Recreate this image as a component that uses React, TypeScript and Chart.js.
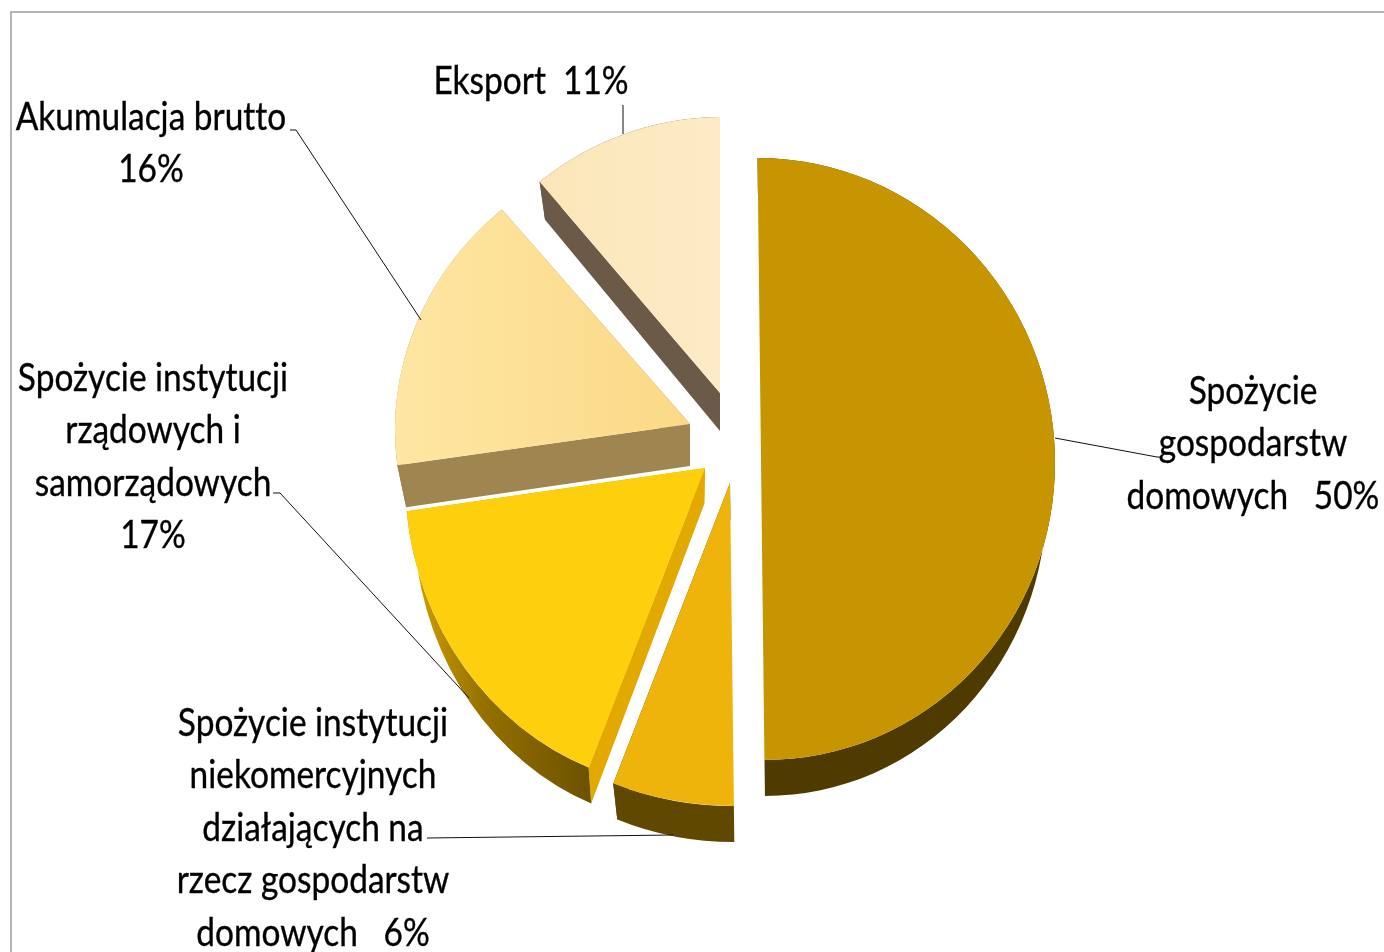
import React, { useEffect, useRef } from "react";
import { Chart, registerables } from "chart.js";

Chart.register(...registerables);

const categories = [
  "Spożycie gospodarstw domowych",
  "Spożycie instytucji niekomercyjnych działających na rzecz gospodarstw domowych",
  "Spożycie instytucji rządowych i samorządowych",
  "Akumulacja brutto",
  "Eksport",
];
const shares = [50, 6, 17, 16, 11];

const topColors = ["#C69500", "#EFB40B", "#FDCF0C", "#FDDF95", "#FBE8BE"];
const edgeColors = ["#4F3A00", "#5F4700", "#E2A900", "#9F8550", "#6B5A48"];
const rimColors = ["#4F3A00", "#604800", "#8F6C00", "#9F8550", "#6B5A48"];

// Exploded-slice look: shift from the pie centre, radius, vertical stretch, skew, tilt, extrusion depth.
const shiftX = [69, 38, 13, -2, 28];
const shiftY = [-17, 7, -8, -52, -83];
const radii = [294, 327, 300, 295, 283];
const stretch = [1.024, 0.988, 1.07, 0.96, 0.975];
const skews = [0.0117, 0.012, -0.02, 0, 0];
const tilts = [0, 0, -0.01, -0.02, -0.008];
const depths = [36, 36, 36, 42, 38];
const bottomFaceScale = 0.97;

const labelLines = [
  ["Spożycie", "gospodarstw", "domowych   50%"],
  ["Spożycie instytucji", "niekomercyjnych", "działających na", "rzecz gospodarstw", "domowych   6%"],
  ["Spożycie instytucji", "rządowych i", "samorządowych", "17%"],
  ["Akumulacja brutto", "16%"],
  ["Eksport  11%"],
];
const labelCenterX = [1253, 313, 153, 151, 531];
const labelFirstBaseline = [404, 736, 391, 130, 94];
const labelLeading = 52.4;
const labelFontPx = 38;
const labelScaleX = 0.88;

const leaders: number[][][] = [
  [[1055, 438], [1157, 457], [1161, 457]],
  [[427, 838], [673, 835]],
  [[273, 493], [280, 493], [469, 698]],
  [[290, 130], [296, 130], [421, 320]],
  [[623, 105], [623, 134]],
];

const piePlugin = {
  id: "pie3d",
  afterDatasetsUpdate(chart: any) {
    chart.getDatasetMeta(0).data.forEach((arc: any, i: number) => {
      arc.x += shiftX[i];
      arc.y += shiftY[i];
      arc.outerRadius = radii[i];
      const draw = arc.draw.bind(arc);
      arc.draw = (ctx: CanvasRenderingContext2D) => {
        ctx.save();
        ctx.translate(arc.x, arc.y);
        ctx.transform(1, tilts[i], skews[i], stretch[i], 0, 0);
        ctx.translate(-arc.x, -arc.y);
        draw(ctx);
        ctx.restore();
      };
    });
  },
  beforeDatasetsDraw(chart: any) {
    const ctx: CanvasRenderingContext2D = chart.ctx;
    chart.getDatasetMeta(0).data.forEach((arc: any, i: number) => {
      const { x, y, startAngle, endAngle } = arc;
      const r = radii[i];
      const rb = r * bottomFaceScale;
      const ry = r * stretch[i];
      const d = depths[i];
      ctx.save();
      ctx.translate(x, y);
      ctx.transform(1, tilts[i], skews[i], 1, 0, 0);
      ctx.fillStyle = edgeColors[i];
      [startAngle, endAngle].forEach((a: number) => {
        ctx.beginPath();
        ctx.moveTo(0, 0);
        ctx.lineTo(r * Math.cos(a), ry * Math.sin(a));
        ctx.lineTo(rb * Math.cos(a), ry * Math.sin(a) + d);
        ctx.lineTo(0, d);
        ctx.closePath();
        ctx.fill();
      });
      if (i === 2) {
        const g = ctx.createLinearGradient(-r, 0, -r * 0.38, 0);
        g.addColorStop(0, "#D9A800");
        g.addColorStop(0.45, "#957000");
        g.addColorStop(1, "#6E5300");
        ctx.fillStyle = g;
      } else {
        ctx.fillStyle = rimColors[i];
      }
      ctx.beginPath();
      ctx.ellipse(0, 0, r, ry, 0, startAngle, endAngle, false);
      ctx.ellipse(0, d, rb, ry, 0, endAngle, startAngle, true);
      ctx.closePath();
      ctx.fill();
      ctx.restore();
    });
  },
  afterDatasetsDraw(chart: any) {
    const ctx: CanvasRenderingContext2D = chart.ctx;
    ctx.save();
    ctx.strokeStyle = "#111111";
    ctx.lineWidth = 1;
    leaders.forEach((pts) => {
      ctx.beginPath();
      pts.forEach(([px, py], k) => (k ? ctx.lineTo(px, py) : ctx.moveTo(px, py)));
      ctx.stroke();
    });
    ctx.fillStyle = "#000000";
    ctx.strokeStyle = "#000000";
    ctx.lineWidth = 0.35;
    ctx.font = `${labelFontPx}px Lato`;
    (ctx as any).textRendering = "optimizeSpeed";
    ctx.textAlign = "center";
    ctx.textBaseline = "alphabetic";
    labelLines.forEach((lines, i) => {
      lines.forEach((line, k) => {
        ctx.save();
        ctx.translate(labelCenterX[i], labelFirstBaseline[i] + k * labelLeading);
        ctx.scale(labelScaleX, 1);
        ctx.fillText(line, 0, 0);
        ctx.strokeText(line, 0, 0);
        ctx.restore();
      });
    });
    ctx.restore();
  },
};

export default function App() {
  const ref = useRef<HTMLCanvasElement>(null);
  useEffect(() => {
    const canvas = ref.current!;
    const c = canvas.getContext("2d")!;
    const g16 = c.createLinearGradient(395, 0, 690, 0);
    g16.addColorStop(0, "#FEE6A3");
    g16.addColorStop(1, "#FBD987");
    const g11 = c.createLinearGradient(537, 0, 720, 0);
    g11.addColorStop(0, "#FBE6B8");
    g11.addColorStop(1, "#FCEBC6");
    const fills = topColors.map((col, i) => (i === 3 ? g16 : i === 4 ? g11 : col));
    const chart = new Chart(canvas, {
      type: "pie",
      data: {
        labels: categories,
        datasets: [
          {
            data: shares,
            backgroundColor: fills as any,
            borderWidth: 0,
          },
        ],
      },
      options: {
        responsive: false,
        animation: false,
        radius: 300,
        layout: { padding: 0 },
        plugins: { legend: { display: false }, tooltip: { enabled: false } },
      } as any,
      plugins: [piePlugin as any],
    });
    return () => chart.destroy();
  }, []);
  return (
    <div
      style={{
        position: "fixed",
        left: 0,
        top: 0,
        width: 1384,
        height: 952,
        overflow: "hidden",
        background: "#FFFFFF",
      }}
    >
      <div
        style={{
          position: "absolute",
          left: 10,
          top: 11,
          width: 1400,
          height: 960,
          borderLeft: "2px solid #B4B4B4",
          borderTop: "2px solid #B4B4B4",
        }}
      />
      <canvas ref={ref} width={1384} height={952} style={{ position: "absolute", left: 0, top: 0 }} />
    </div>
  );
}
